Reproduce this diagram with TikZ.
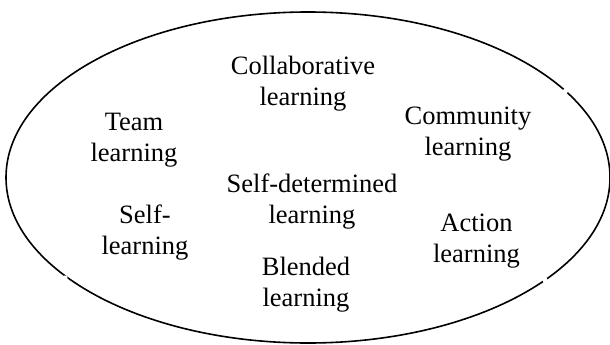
\documentclass[tikz,border=0pt]{standalone}
\usepackage{fontspec}
\setmainfont{Liberation Serif}
\begin{document}
\begin{tikzpicture}[x=1pt,y=-1pt,
  outline/.style={line width=1.6pt,draw=black},
  term/.style={align=center,inner sep=0pt,anchor=base,
    font=\fontsize{26.5}{31}\selectfont},
  gap/.style={fill=white,draw=none}]
\useasboundingbox (0,0) rectangle (610,345);
% the enclosing ellipse
\draw[outline] (308,177.5) ellipse [x radius=302, y radius=165.5];
% small breaks in the outline
\fill[gap] (565.5,91) circle (2.6);
\fill[gap] (65,278) circle (2.6);
\fill[gap] (545,280) circle (2.6);
% the kinds of learning (placed at the baseline of the second line)
\node[term] (collab)  at (303,105)   {Collaborative\\learning};
\node[term] (team)    at (134,161.7) {Team\\learning};
\node[term] (comm)    at (468,155)   {Community\\learning};
\node[term] (selfdet) at (312,223.3) {Self-determined\\learning};
\node[term] (self)    at (145,254.5) {Self-\\learning};
\node[term] (action)  at (476.5,262.5) {Action\\learning};
\node[term] (blend)   at (306,306)   {Blended\\learning};
\end{tikzpicture}
\end{document}
